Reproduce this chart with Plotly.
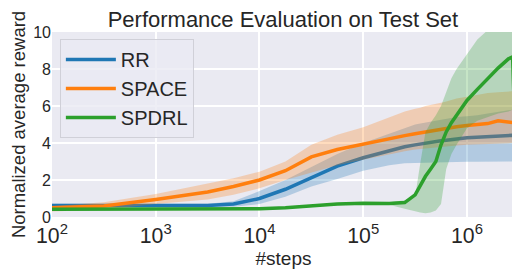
import plotly.graph_objects as go

steps = [100, 316, 1000, 3162, 5623, 10000, 17783, 31623, 56234, 100000,
         177828, 251189, 316228, 354813, 398107, 446684, 501187, 562341,
         630957, 707946, 794328, 1000000, 1258925, 1584893, 1995262,
         2511886, 2754229, 2884032]

rr_mean = [0.62, 0.62, 0.62, 0.62, 0.7, 1.0, 1.5, 2.1, 2.75, 3.2, 3.6, 3.8, 3.9, 3.95,
           4.0, 4.05, 4.1, 4.12, 4.15, 4.2, 4.22, 4.28, 4.32, 4.35, 4.4, 4.4, 4.42, 4.42]
rr_low = [0.52, 0.52, 0.52, 0.52, 0.55, 0.7, 1.1, 1.65, 2.05, 2.5, 2.8, 2.9, 2.92, 2.93,
          2.94, 2.95, 2.95, 2.96, 2.96, 2.97, 2.97, 2.98, 2.98, 2.99, 3.0, 3.0, 3.0, 3.0]
rr_high = [0.72, 0.72, 0.72, 0.72, 0.85, 1.4, 2.0, 2.7, 3.4, 4.0, 4.5, 4.8, 5.0, 5.05,
           5.1, 5.15, 5.2, 5.25, 5.3, 5.35, 5.4, 5.45, 5.5, 5.6, 5.7, 5.8, 5.8, 5.8]

space_mean = [0.5, 0.6, 0.95, 1.35, 1.65, 2.0, 2.5, 3.25, 3.65, 3.95, 4.25, 4.4, 4.5, 4.55,
              4.6, 4.65, 4.7, 4.75, 4.8, 4.85, 4.88, 4.95, 5.0, 5.05, 5.2, 5.1, 5.1, 5.1]
space_low = [0.3, 0.4, 0.7, 0.95, 1.2, 1.55, 2.0, 2.4, 2.8, 3.1, 3.4, 3.55, 3.65, 3.68,
             3.7, 3.72, 3.75, 3.78, 3.8, 3.83, 3.86, 3.9, 3.93, 3.95, 3.98, 4.0, 4.0, 4.0]
space_high = [0.6, 0.8, 1.25, 1.8, 2.1, 2.45, 3.0, 3.9, 4.45, 4.85, 5.4, 5.7, 5.85, 5.9,
              6.0, 6.05, 6.1, 6.18, 6.25, 6.33, 6.4, 6.5, 6.6, 6.7, 6.75, 6.8, 6.8, 6.8]

spdrl_mean = [0.42, 0.42, 0.42, 0.42, 0.42, 0.45, 0.5, 0.6, 0.7, 0.75, 0.73, 0.78, 1.2, 1.7,
              2.2, 2.6, 3.0, 3.9, 4.6, 5.1, 5.5, 6.3, 6.9, 7.5, 8.05, 8.55, 8.65, 5.2]
spdrl_low = [0.37, 0.37, 0.37, 0.37, 0.37, 0.4, 0.45, 0.55, 0.64, 0.7, 0.66, 0.45, 0.3, 0.25,
             0.2, 0.25, 0.35, 0.7, 2.6, 3.4, 3.9, 4.8, 5.2, 5.4, 5.6, 5.7, 5.8, 5.8]
spdrl_high = [0.47, 0.47, 0.47, 0.47, 0.47, 0.5, 0.55, 0.65, 0.76, 0.8, 0.8, 0.9, 1.1, 2.9,
              4.6, 5.1, 5.5, 6.0, 6.8, 7.5, 8.0, 8.8, 9.6, 10.1, 10.8, 11.3, 11.5, 11.5]

series = [
    ("RR", rr_mean, rr_low, rr_high, "#1f77b4", "rgba(31,119,180,0.27)"),
    ("SPACE", space_mean, space_low, space_high, "#ff7f0e", "rgba(255,127,14,0.27)"),
    ("SPDRL", spdrl_mean, spdrl_low, spdrl_high, "#2ca02c", "rgba(44,160,44,0.27)"),
]

fig = go.Figure()
for name, mean, low, high, color, fillc in series:
    fig.add_trace(go.Scatter(x=steps, y=low, mode="lines", line=dict(width=0, color=fillc),
                             showlegend=False, hoverinfo="skip"))
    fig.add_trace(go.Scatter(x=steps, y=high, mode="lines", line=dict(width=0, color=fillc),
                             fill="tonexty", fillcolor=fillc, showlegend=False, hoverinfo="skip"))
    fig.add_trace(go.Scatter(x=steps, y=mean, mode="lines", name=name,
                             line=dict(color=color, width=3.5)))

txt = "#262626"
fig.update_layout(
    width=512, height=266,
    margin=dict(l=44, r=5, t=24, b=57, autoexpand=False),
    paper_bgcolor="white", plot_bgcolor="#EAEAF2",
    font=dict(family="Liberation Sans, Arial, sans-serif", color=txt, size=16),
    title=dict(text="Performance Evaluation on Test Set", x=0.537, xanchor="center",
               y=0.985, yanchor="top", pad=dict(t=0), font=dict(size=22, color=txt)),
    showlegend=True,
    legend=dict(x=0.017, y=0.962, xanchor="left", yanchor="top", traceorder="normal",
                bgcolor="rgba(234,234,242,0.8)", bordercolor="#D0D0D8", borderwidth=1,
                itemwidth=50, font=dict(size=20, color=txt)),
    xaxis=dict(type="log", range=[2, 6.463], dtick=1, exponentformat="power",
               showgrid=True, gridcolor="white", gridwidth=2, zeroline=False,
               ticks="", showline=False, ticklabelstandoff=4, automargin=False,
               title=dict(text="#steps", font=dict(size=19, color=txt), standoff=0),
               tickfont=dict(size=17, color=txt)),
    yaxis=dict(range=[0, 10], dtick=2, showgrid=True, gridcolor="white", gridwidth=2,
               zeroline=False, ticks="", showline=False, automargin=False,
               title=dict(text="Normalized average reward", font=dict(size=18.5, color=txt), standoff=12),
               tickfont=dict(size=16, color=txt)),
)

fig.write_html("out.html")
